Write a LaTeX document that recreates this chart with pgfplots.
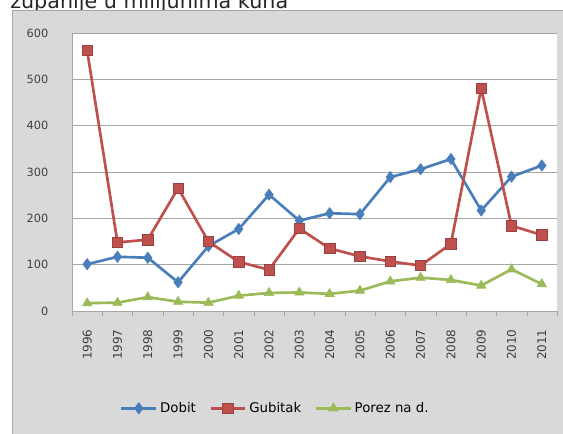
\documentclass[border=0pt]{standalone}
\usepackage{pgfplots}
\pgfplotsset{compat=1.18}
\usepackage{fontspec}
\setmainfont{DejaVu Sans}
\definecolor{cDob}{HTML}{4A7EBB}
\definecolor{cGub}{HTML}{C0504D}
\definecolor{cPor}{HTML}{9BBB59}
\definecolor{bgGray}{HTML}{D9D9D9}
\definecolor{gridGray}{HTML}{A6A6A6}

\pgfplotstableread{
i Dobit Gubitak Porez
0 101 562 17
1 117 148 18
2 115 154 30
3 62 265 20
4 140 150 18
5 177 106 33
6 251 89 39
7 195 178 40
8 211 135 37
9 209 118 44
10 289 107 64
11 306 98 72
12 328 145 67
13 217 480 55
14 290 184 90
15 314 164 58
}\data

\begin{document}
\begin{tikzpicture}
% 1 px = 0.75pt, page 563 x 433 px
\useasboundingbox (0,0) rectangle (422.25pt,-324.75pt);
\clip (0,0) rectangle (422.25pt,-324.75pt);
\node[anchor=base west, inner sep=0pt, font=\fontsize{15.5}{17}\selectfont, text=black!85] at (7.5pt,-6pt) {županije u milijunima kuna};
\fill[bgGray, draw=gridGray] (9pt,-8pt) rectangle (423pt,-326pt);
\begin{axis}[
    at={(54pt,-24.75pt)}, anchor=north west,
    scale only axis,
    width=363.75pt, height=208.5pt,
    axis background/.style={fill=white},
    xmin=-0.5, xmax=15.5,
    ymin=0, ymax=600,
    xtick={0,...,15},
    xticklabels={1996,1997,1998,1999,2000,2001,2002,2003,2004,2005,2006,2007,2008,2009,2010,2011},
    x tick label style={rotate=90, anchor=east, font=\fontsize{9}{10}\selectfont, text=black!75},
    xticklabel shift=6pt,
    major x tick style={draw=none},
    minor xtick={-0.5,0.5,...,15.5},
    minor x tick style={gridGray},
    minor tick length=4pt,
    tick align=outside,
    ytick={0,100,...,600},
    ymajorgrids,
    grid style={gridGray, line width=0.6pt},
    major y tick style={draw=none},
    y tick label style={font=\fontsize{8.5}{10}\selectfont, text=black!75},
    yticklabel shift=10pt,
    /pgf/number format/assume math mode=true,
    axis line style={gridGray},
    axis x line*=bottom, axis y line*=left,
    every axis plot/.append style={line width=2pt},
    legend style={at={(0.42,-0.35)}, anchor=center, draw=none, fill=none,
        legend columns=3, font=\fontsize{10}{12}\selectfont,
        /tikz/every even column/.append style={column sep=8pt}},
    legend image code/.code={
        \draw[#1, mark repeat=2, mark phase=2] plot coordinates {(0pt,0pt) (13pt,0pt) (26pt,0pt)};},
    clip=false,
]
\addplot[cDob, mark=diamond*, mark size=4.2pt, mark options={fill=cDob, line width=0.5pt}] table[x=i, y=Dobit] {\data};
\addplot[cGub, mark=square*, mark size=3.9pt, mark options={fill=cGub, draw=cGub!80!black, line width=0.5pt}] table[x=i, y=Gubitak] {\data};
\addplot[cPor, mark=triangle*, mark size=4pt, mark options={fill=cPor, line width=0.5pt}] table[x=i, y=Porez] {\data};
\legend{Dobit, Gubitak, Porez na d.}
\end{axis}
\end{tikzpicture}
\end{document}
